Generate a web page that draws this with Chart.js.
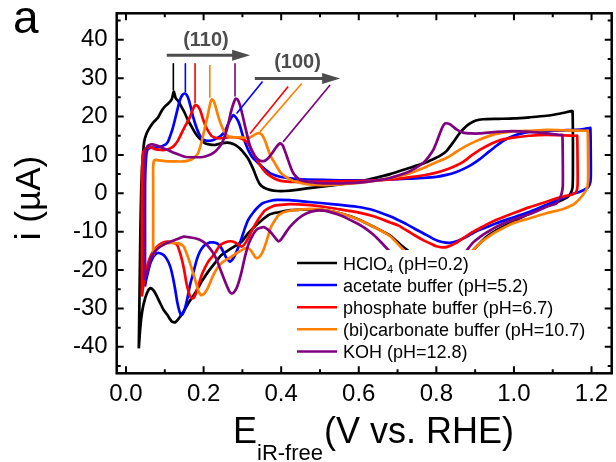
<!DOCTYPE html>
<html>
<head>
<meta charset="utf-8">
<script src="https://cdn.jsdelivr.net/npm/chart.js@4.4.1/dist/chart.umd.min.js"></script>
<style>
  html, body { margin: 0; padding: 0; background: #fff; }
  canvas { display: block; }
</style>
</head>
<body>
<canvas id="cv" width="616" height="462"></canvas>
<script>
// axis ticks
const xTicks = [0, 0.2, 0.4, 0.6, 0.8, 1.0, 1.2];
const xMinor = [0.1, 0.3, 0.5, 0.7, 0.9, 1.1];
const yTicks = [-40, -30, -20, -10, 0, 10, 20, 30, 40];
const yMinor = [-45, -35, -25, -15, -5, 5, 15, 25, 35, 45];

const seriesNames = ["HClO_4 (pH=0.2)", "acetate buffer (pH=5.2)", "phosphate buffer (pH=6.7)",
  "(bi)carbonate buffer (pH=10.7)", "KOH (pH=12.8)"];
const seriesColors = ["#000000", "#0000ff", "#ff0000", "#ff8000", "#800080"];

// [E (V vs RHE), i (uA)] - anodic sweep then cathodic sweep
const hclo4Up = [[0.033,-40.4],[0.035,-25],[0.037,-10],[0.039,0],[0.041,6],[0.044,10.5],[0.047,13.5],[0.052,15.3],
  [0.058,16.6],[0.070,18.4],[0.083,19.8],[0.092,21.5],[0.100,22.6],[0.110,23.5],[0.118,24.5],[0.123,26.5],[0.128,24.8],
  [0.135,24.0],[0.143,22.5],[0.152,20.8],[0.160,19.0],[0.169,17.4],[0.178,15.8],[0.186,14.7],[0.195,13.8],[0.204,13.0],
  [0.217,12.7],[0.230,12.6],[0.245,13.0],[0.262,13.2],[0.278,12.8],[0.290,12.0],[0.300,11.0],[0.315,9.0],[0.328,6.3],
  [0.337,4.0],[0.345,2.4],[0.355,1.5],[0.371,0.9],[0.390,0.6],[0.410,0.6],[0.440,0.9],[0.466,1.3],[0.510,1.8],
  [0.552,2.3],[0.600,3.0],[0.638,3.9],[0.681,5.0],[0.724,6.4],[0.767,7.8],[0.790,8.8],[0.810,9.8],[0.826,11.0],
  [0.845,13.5],[0.861,15.8],[0.875,17.3],[0.887,18.2],[0.900,18.9],[0.920,19.3],[0.960,19.4],[1.000,19.5],
  [1.040,19.8],[1.084,20.2],[1.120,20.8],[1.148,21.4]];
const hclo4Down = [[1.151,21.4],[1.152,15],[1.152,5],[1.151,1.5],[1.146,0],[1.138,-1.0],[1.118,-2.0],[1.084,-3.4],
  [1.041,-5.2],[1.000,-7.3],[0.955,-9.6],[0.930,-11.3],[0.912,-13.0],[0.895,-14.8],[0.880,-16.5],[0.850,-19.0],
  [0.810,-20.5],[0.770,-19.0],[0.740,-16.0],[0.710,-13.6],[0.681,-11.0],[0.638,-8.7],[0.595,-6.6],[0.552,-5.2],
  [0.509,-4.4],[0.466,-4.2],[0.444,-4.3],[0.423,-4.4],[0.401,-4.8],[0.380,-5.2],[0.367,-5.7],[0.341,-7.8],
  [0.315,-10.4],[0.298,-12.6],[0.272,-14.3],[0.246,-16.1],[0.229,-18.2],[0.212,-20.4],[0.195,-23.0],[0.178,-26.0],
  [0.161,-28.6],[0.150,-30.5],[0.140,-32.1],[0.127,-33.6],[0.118,-33.4],[0.106,-31.6],[0.097,-30.4],[0.088,-28.6],
  [0.080,-26.9],[0.071,-25.3],[0.063,-24.7],[0.054,-26.0],[0.045,-29.0],[0.040,-32.0],[0.036,-36],[0.033,-40.4]];

const acetateUp = [[0.049,-24.3],[0.049,-12],[0.049,0],[0.050,6],[0.053,10.5],[0.058,11.7],[0.070,11.9],[0.083,12.0],
  [0.100,12.6],[0.108,13.4],[0.113,14.7],[0.120,16.8],[0.126,19.1],[0.133,22.0],[0.139,24.3],[0.146,25.7],[0.152,26.0],
  [0.157,25.5],[0.162,24.3],[0.168,22.0],[0.173,19.9],[0.180,17.6],[0.186,16.0],[0.192,14.8],[0.199,14.0],[0.208,13.7],
  [0.216,13.7],[0.225,13.9],[0.233,14.3],[0.242,14.8],[0.251,15.6],[0.258,16.8],[0.264,18.2],[0.271,19.6],[0.277,20.4],
  [0.283,19.8],[0.290,18.6],[0.296,16.8],[0.302,14.7],[0.309,12.8],[0.315,11.3],[0.323,9.8],[0.332,8.7],[0.346,7.4],
  [0.360,6.1],[0.372,5.2],[0.397,4.3],[0.423,3.9],[0.466,3.6],[0.552,3.4],[0.638,3.4],[0.681,3.6],[0.724,3.8],
  [0.767,4.0],[0.800,4.3],[0.826,4.8],[0.850,5.5],[0.869,6.3],[0.890,7.4],[0.912,8.9],[0.935,10.8],[0.955,12.4],
  [0.975,13.8],[0.998,14.9],[1.020,15.6],[1.041,16.0],[1.084,16.2],[1.127,16.4],[1.170,16.6],[1.194,17.0]];
const acetateDown = [[1.197,17.0],[1.198,10],[1.198,4],[1.195,2.2],[1.187,1.2],[1.170,0.4],[1.150,-0.2],[1.127,-1.2],
  [1.084,-3.0],[1.041,-4.8],[0.998,-6.3],[0.955,-7.8],[0.930,-8.8],[0.904,-9.8],[0.880,-11.2],[0.858,-12.3],
  [0.835,-12.9],[0.815,-12.7],[0.795,-12.0],[0.766,-10.4],[0.745,-9.3],[0.724,-8.1],[0.700,-6.9],[0.681,-6.0],
  [0.638,-4.4],[0.595,-3.5],[0.552,-3.0],[0.509,-2.6],[0.466,-2.2],[0.423,-1.8],[0.390,-1.7],[0.370,-2.0],
  [0.352,-2.6],[0.341,-3.5],[0.328,-5.0],[0.315,-6.9],[0.306,-9.2],[0.298,-11.7],[0.289,-14.2],[0.281,-16.1],
  [0.274,-17.3],[0.268,-17.8],[0.263,-17.4],[0.259,-16.9],[0.252,-15.5],[0.246,-14.3],[0.240,-13.5],[0.234,-13.0],
  [0.225,-12.8],[0.217,-12.8],[0.208,-13.2],[0.199,-13.9],[0.190,-15.3],[0.182,-17.4],[0.174,-20.5],[0.165,-23.9],
  [0.158,-27.5],[0.153,-29.6],[0.147,-31.3],[0.142,-31.8],[0.138,-30.8],[0.132,-28.3],[0.127,-25.2],[0.120,-21.5],
  [0.114,-19.1],[0.106,-17.3],[0.097,-16.1],[0.088,-15.6],[0.080,-15.6],[0.071,-16.5],[0.063,-18.2],[0.056,-20.8],
  [0.051,-23.0],[0.049,-24.3]];

const phosphateUp = [[0.041,-26.9],[0.041,-15],[0.041,0],[0.042,8],[0.045,10.8],[0.053,11.8],[0.063,12.0],[0.075,11.5],
  [0.090,11.3],[0.100,11.3],[0.112,11.6],[0.122,12.2],[0.133,13.6],[0.143,15.6],[0.154,17.8],[0.165,19.9],[0.172,21.8],
  [0.178,22.9],[0.184,22.8],[0.191,21.7],[0.197,19.8],[0.204,17.8],[0.212,16.2],[0.221,14.9],[0.230,14.5],[0.238,14.3],
  [0.251,14.4],[0.264,14.6],[0.277,14.6],[0.290,14.5],[0.303,14.0],[0.315,13.0],[0.324,11.3],[0.332,9.8],[0.346,7.3],
  [0.362,5.2],[0.380,4.0],[0.397,3.3],[0.423,3.0],[0.466,3.0],[0.552,3.1],[0.638,3.3],[0.681,3.6],[0.724,4.1],
  [0.767,4.7],[0.800,5.4],[0.826,6.2],[0.850,7.2],[0.869,8.2],[0.890,9.8],[0.912,11.3],[0.935,12.6],[0.955,13.5],
  [0.975,14.1],[0.998,14.5],[1.041,15.0],[1.084,15.2],[1.130,15.1],[1.161,15.0]];
const phosphateDown = [[1.163,15.0],[1.164,8],[1.164,2],[1.160,0.3],[1.150,-0.3],[1.130,-0.8],[1.110,-1.3],
  [1.084,-2.2],[1.041,-3.6],[0.998,-5.2],[0.955,-6.9],[0.930,-8.1],[0.912,-9.1],[0.890,-10.3],[0.870,-11.6],
  [0.850,-13.0],[0.830,-13.9],[0.815,-14.1],[0.800,-13.8],[0.785,-13.1],[0.766,-12.2],[0.745,-11.0],[0.724,-9.7],
  [0.700,-8.3],[0.681,-7.6],[0.638,-6.0],[0.595,-4.9],[0.552,-4.2],[0.509,-3.5],[0.466,-3.0],[0.423,-2.8],[0.400,-3.0],
  [0.380,-3.3],[0.358,-4.5],[0.345,-6.2],[0.332,-8.3],[0.322,-10.2],[0.315,-11.7],[0.306,-13.2],[0.298,-13.9],
  [0.290,-13.4],[0.281,-12.8],[0.270,-12.5],[0.255,-12.8],[0.242,-13.6],[0.229,-15.6],[0.220,-16.8],[0.212,-17.8],
  [0.203,-19.5],[0.195,-21.3],[0.188,-23.6],[0.182,-25.6],[0.176,-27.0],[0.171,-27.4],[0.166,-27.0],[0.161,-25.6],
  [0.155,-23.0],[0.149,-19.5],[0.142,-16.5],[0.132,-13.5],[0.120,-12.8],[0.106,-12.6],[0.092,-13.0],[0.080,-13.9],
  [0.071,-15.0],[0.063,-16.5],[0.056,-18.5],[0.050,-20.8],[0.045,-23.8],[0.041,-26.9]];

const carbonateUp = [[0.070,-16.1],[0.070,-5],[0.070,3],[0.070,7],[0.072,8.5],[0.076,8.7],[0.100,8.4],[0.125,8.3],
  [0.149,8.3],[0.160,8.5],[0.169,8.8],[0.178,9.5],[0.186,10.5],[0.195,13.5],[0.204,17.4],[0.211,20.5],[0.217,23.4],
  [0.221,24.5],[0.226,24.0],[0.230,22.9],[0.238,20.0],[0.247,17.4],[0.255,15.8],[0.264,14.8],[0.277,14.6],[0.290,14.6],
  [0.303,14.5],[0.315,14.4],[0.324,14.8],[0.332,15.3],[0.341,15.7],[0.350,15.3],[0.358,13.8],[0.366,11.5],[0.374,9.5],
  [0.385,7.6],[0.397,5.6],[0.410,4.4],[0.431,3.2],[0.466,2.4],[0.509,2.1],[0.552,2.3],[0.600,2.7],[0.638,3.2],
  [0.681,4.0],[0.724,5.0],[0.767,6.6],[0.800,8.1],[0.826,9.2],[0.850,10.7],[0.869,11.9],[0.890,13.0],[0.912,14.0],
  [0.935,14.9],[0.955,15.5],[0.998,16.1],[1.041,16.3],[1.084,16.5],[1.140,16.4],[1.187,16.3]];
const carbonateDown = [[1.190,16.3],[1.191,10],[1.191,3],[1.187,1.0],[1.174,-0.9],[1.160,-2.4],[1.152,-3.0],
  [1.127,-4.1],[1.084,-5.2],[1.041,-6.5],[0.998,-7.8],[0.955,-10.0],[0.930,-11.6],[0.912,-13.0],[0.898,-14.5],
  [0.887,-15.8],[0.860,-19.0],[0.820,-21.0],[0.780,-20.0],[0.740,-17.0],[0.707,-13.9],[0.681,-11.2],[0.638,-8.7],
  [0.595,-6.7],[0.552,-5.2],[0.509,-4.3],[0.487,-4.1],[0.466,-4.1],[0.440,-4.3],[0.423,-4.5],[0.405,-5.0],
  [0.393,-5.7],[0.384,-7.0],[0.375,-8.5],[0.368,-10.5],[0.363,-12.2],[0.356,-14.3],[0.350,-15.7],[0.343,-16.6],
  [0.337,-16.9],[0.332,-16.5],[0.328,-15.8],[0.320,-14.7],[0.315,-14.3],[0.307,-14.3],[0.298,-14.8],[0.285,-15.6],
  [0.272,-16.5],[0.259,-17.3],[0.246,-18.2],[0.235,-19.5],[0.225,-21.3],[0.216,-23.5],[0.208,-25.2],[0.200,-26.3],
  [0.193,-26.5],[0.187,-25.5],[0.182,-23.9],[0.176,-21.8],[0.169,-19.5],[0.162,-17.3],[0.156,-15.6],[0.149,-13.9],
  [0.140,-13.2],[0.132,-13.0],[0.106,-13.0],[0.090,-13.6],[0.080,-14.3],[0.074,-15.0],[0.070,-16.1]];

const kohUp = [[0.047,-22.6],[0.047,-10],[0.047,0],[0.048,7],[0.050,10.5],[0.055,12.2],[0.063,12.7],[0.071,12.7],
  [0.083,12.3],[0.097,11.7],[0.109,11.2],[0.125,10.5],[0.149,9.6],[0.165,9.4],[0.178,9.4],[0.192,9.4],
  [0.204,9.6],[0.218,10.1],[0.230,10.9],[0.240,12.0],[0.247,13.0],[0.256,15.3],[0.264,18.2],[0.270,21.0],[0.277,23.4],
  [0.283,24.7],[0.288,24.4],[0.294,22.9],[0.300,20.5],[0.307,17.4],[0.314,14.5],[0.320,12.2],[0.326,10.7],[0.332,9.6],
  [0.341,8.8],[0.350,8.4],[0.358,8.5],[0.367,9.2],[0.377,10.5],[0.387,12.0],[0.397,13.0],[0.404,12.5],[0.414,9.8],
  [0.423,7.2],[0.431,5.3],[0.440,4.2],[0.448,3.6],[0.466,3.0],[0.491,2.7],[0.509,2.6],[0.552,2.6],[0.600,2.8],
  [0.638,3.2],[0.680,4.0],[0.724,5.4],[0.745,6.5],[0.766,7.9],[0.780,9.5],[0.792,11.3],[0.800,13.2],[0.809,15.6],
  [0.816,17.3],[0.822,18.2],[0.835,18.0],[0.845,17.2],[0.853,16.6],[0.869,15.8],[0.890,15.6],[0.912,15.6],
  [0.955,16.0],[0.998,16.2],[1.041,16.0],[1.084,15.6],[1.110,15.3],[1.123,15.2]];
const kohDown = [[1.125,15.2],[1.126,8],[1.126,2],[1.123,0],[1.117,-1.6],[1.110,-2.6],[1.084,-3.5],[1.041,-5.4],
  [0.998,-6.9],[0.955,-8.7],[0.930,-10.2],[0.912,-11.4],[0.895,-12.8],[0.879,-14.8],[0.860,-17.5],[0.830,-20.5],
  [0.790,-22.0],[0.745,-21.0],[0.705,-18.0],[0.680,-15.2],[0.660,-13.0],[0.638,-10.8],[0.615,-9.0],[0.595,-7.8],
  [0.552,-5.7],[0.520,-4.7],[0.509,-4.5],[0.490,-4.5],[0.466,-5.2],[0.445,-6.5],[0.423,-8.7],[0.410,-10.5],
  [0.400,-12.0],[0.393,-12.5],[0.386,-11.8],[0.376,-10.5],[0.365,-9.4],[0.355,-8.8],[0.350,-8.9],[0.340,-9.2],
  [0.332,-10.0],[0.322,-11.8],[0.315,-13.5],[0.306,-16.8],[0.298,-20.4],[0.291,-23.0],[0.285,-24.7],[0.278,-25.8],
  [0.272,-26.1],[0.266,-25.5],[0.259,-23.9],[0.250,-21.6],[0.242,-19.5],[0.234,-17.4],[0.225,-15.6],[0.215,-14.2],
  [0.204,-13.0],[0.190,-12.1],[0.178,-11.7],[0.160,-11.4],[0.149,-11.3],[0.130,-12.0],[0.114,-12.6],[0.100,-13.2],
  [0.088,-13.9],[0.080,-14.6],[0.071,-15.6],[0.064,-17.0],[0.059,-19.1],[0.053,-20.8],[0.047,-22.6]];

const sweeps = [[hclo4Up, hclo4Down], [acetateUp, acetateDown], [phosphateUp, phosphateDown],
  [carbonateUp, carbonateDown], [kohUp, kohDown]];

// peak assignment marks, in data units
const marks110 = [[0.122, 26.8, 33.9], [0.153, 26.3, 33.9], [0.178, 23.4, 33.9], [0.216, 24.9, 33.4], [0.281, 25.2, 33.9]];
const marks100 = [[0.352, 29.1, 0.285, 20.8], [0.418, 27.8, 0.320, 15.6], [0.453, 28.6, 0.345, 16.0], [0.526, 28.2, 0.405, 13.4]];

const FONT = "'Liberation Sans', Arial, Helvetica, sans-serif";

function drawArrow(ctx, x1, x2, y) {
    ctx.strokeStyle = "#4d4d4d";
    ctx.fillStyle = "#4d4d4d";
    ctx.lineWidth = 3;
    ctx.beginPath();
    ctx.moveTo(x1, y);
    ctx.lineTo(x2 - 14, y);
    ctx.stroke();
    ctx.beginPath();
    ctx.moveTo(x2, y);
    ctx.lineTo(x2 - 18, y - 5.5);
    ctx.lineTo(x2 - 18, y + 5.5);
    ctx.closePath();
    ctx.fill();
}

function drawLabel(ctx, text, x, y, size) {
    // "_4" means subscript 4
    const parts = text.split("_");
    ctx.font = size + "px " + FONT;
    ctx.fillText(parts[0], x, y);
    if (parts.length < 2) return;
    let cx = x + ctx.measureText(parts[0]).width;
    ctx.font = Math.round(size * 0.6) + "px " + FONT;
    ctx.fillText(parts[1][0], cx, y + 3);
    cx += ctx.measureText(parts[1][0]).width;
    ctx.font = size + "px " + FONT;
    ctx.fillText(parts[1].slice(1), cx, y);
}

const decor = {
    id: "decor",
    afterDatasetsDraw(chart) {
        const { ctx, scales: { x, y } } = chart;
        ctx.save();
        // (110) / (100) peak labels
        ctx.lineWidth = 1.6;
        marks110.forEach((m, k) => {
            ctx.strokeStyle = seriesColors[k];
            ctx.beginPath();
            ctx.moveTo(x.getPixelForValue(m[0]), y.getPixelForValue(m[1]));
            ctx.lineTo(x.getPixelForValue(m[0]), y.getPixelForValue(m[2]));
            ctx.stroke();
        });
        marks100.forEach((m, k) => {
            ctx.strokeStyle = seriesColors[k + 1];
            ctx.beginPath();
            ctx.moveTo(x.getPixelForValue(m[0]), y.getPixelForValue(m[1]));
            ctx.lineTo(x.getPixelForValue(m[2]), y.getPixelForValue(m[3]));
            ctx.stroke();
        });
        drawArrow(ctx, x.getPixelForValue(0.105), x.getPixelForValue(0.320), y.getPixelForValue(36.0));
        drawArrow(ctx, x.getPixelForValue(0.332), x.getPixelForValue(0.552), y.getPixelForValue(29.9));
        ctx.font = "bold 20px " + FONT;
        ctx.textAlign = "center";
        ctx.textBaseline = "middle";
        ctx.fillText("(110)", x.getPixelForValue(0.206), y.getPixelForValue(39.9));
        ctx.fillText("(100)", x.getPixelForValue(0.442), y.getPixelForValue(34.2));

        // legend with opaque background
        ctx.fillStyle = "#fff";
        ctx.fillRect(293, 250, 300, 116);
        ctx.textAlign = "left";
        ctx.textBaseline = "alphabetic";
        seriesNames.forEach((name, k) => {
            const ly = 263 + k * 22.1;
            ctx.strokeStyle = seriesColors[k];
            ctx.lineWidth = 2.5;
            ctx.beginPath();
            ctx.moveTo(297, ly);
            ctx.lineTo(337, ly);
            ctx.stroke();
            ctx.fillStyle = "#000";
            drawLabel(ctx, name, 343, ly + 6.5, 18);
        });
        ctx.restore();
    },
    afterDraw(chart) {
        const { ctx, chartArea: a, scales: { x, y } } = chart;
        ctx.save();
        ctx.strokeStyle = "#000";
        ctx.lineWidth = 2.5;
        ctx.strokeRect(a.left, a.top, a.right - a.left, a.bottom - a.top);
        // inward ticks on all four sides
        ctx.lineWidth = 2;
        const tick = (vals, len) => {
            vals.forEach(v => {
                const px = x.getPixelForValue(v);
                ctx.beginPath();
                ctx.moveTo(px, a.bottom); ctx.lineTo(px, a.bottom - len);
                ctx.moveTo(px, a.top); ctx.lineTo(px, a.top + len);
                ctx.stroke();
            });
        };
        const ytick = (vals, len) => {
            vals.forEach(v => {
                const py = y.getPixelForValue(v);
                ctx.beginPath();
                ctx.moveTo(a.left, py); ctx.lineTo(a.left + len, py);
                ctx.moveTo(a.right, py); ctx.lineTo(a.right - len, py);
                ctx.stroke();
            });
        };
        tick(xTicks, 7); tick(xMinor, 4);
        ytick(yTicks, 7); ytick(yMinor, 4);

        // titles
        ctx.fillStyle = "#000";
        ctx.textBaseline = "alphabetic";
        ctx.textAlign = "left";
        ctx.font = "46px " + FONT;
        ctx.fillText("a", 13, 33);
        ctx.font = "36px " + FONT;
        ctx.fillText("E", 233, 443);
        ctx.fillText("(V vs. RHE)", 324, 443);
        ctx.font = "22px " + FONT;
        ctx.fillText("iR-free", 257, 460);
        ctx.translate(40, 198);
        ctx.rotate(-Math.PI / 2);
        ctx.textAlign = "center";
        ctx.font = "35px " + FONT;
        ctx.fillText("i (\u00b5A)", 0, 0);
        ctx.restore();
    }
};

document.addEventListener("DOMContentLoaded", () => {
    Chart.defaults.font.family = FONT;
    Chart.defaults.color = "#000";

    const datasets = sweeps.map((sw, k) => ({
        label: seriesNames[k],
        data: sw[0].concat(sw[1]).map(p => ({ x: p[0], y: p[1] })),
        borderColor: seriesColors[k],
        backgroundColor: seriesColors[k],
        borderWidth: 2.7,
        pointRadius: 0,
        showLine: true,
        tension: 0.2,
        fill: false,
        order: sweeps.length - k
    }));

    new Chart(document.getElementById("cv"), {
        type: "scatter",
        data: { datasets },
        options: {
            responsive: false,
            animation: false,
            devicePixelRatio: 1,
            layout: { padding: { top: 13.3, right: 4.3, left: 0, bottom: 0 } },
            plugins: { legend: { display: false }, tooltip: { enabled: false } },
            scales: {
                x: {
                    type: "linear",
                    min: -0.024,
                    max: 1.252,
                    grid: { display: false, drawTicks: false },
                    border: { display: false },
                    afterBuildTicks: s => { s.ticks = xTicks.map(v => ({ value: v })); },
                    afterFit: s => { s.height = 88.7; s.paddingLeft = 0; s.paddingRight = 0; },
                    ticks: { font: { size: 24 }, padding: 7, maxRotation: 0, autoSkip: false,
                        callback: v => v.toFixed(1) }
                },
                y: {
                    type: "linear",
                    min: -46.9,
                    max: 46.9,
                    grid: { display: false, drawTicks: false },
                    border: { display: false },
                    afterBuildTicks: s => { s.ticks = yTicks.map(v => ({ value: v })); },
                    afterFit: s => { s.width = 116.7; s.paddingTop = 0; s.paddingBottom = 0; },
                    ticks: { font: { size: 24 }, padding: 9, autoSkip: false,
                        callback: v => String(v) }
                }
            }
        },
        plugins: [decor]
    });
});
</script>
</body>
</html>
